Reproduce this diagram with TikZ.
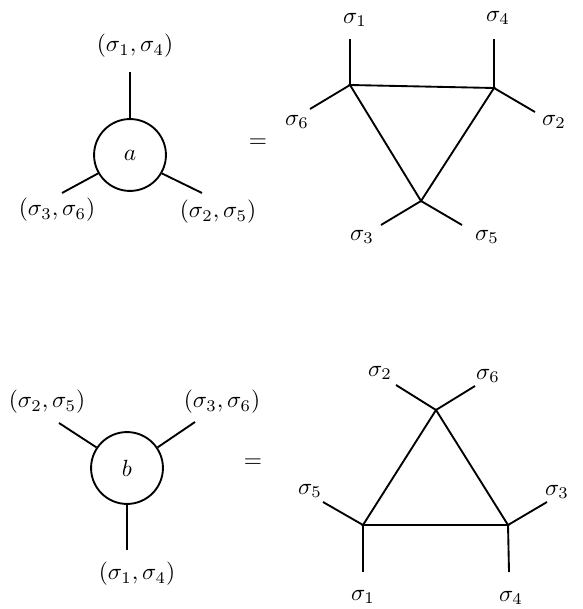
\documentclass[tikz,border=0pt]{standalone}
\begin{document}
\begin{tikzpicture}[x=0.427pt,y=-0.427pt,line width=0.8pt,
  blob/.style={draw,circle,minimum size=30.7pt,inner sep=0pt},
  lbl/.style={inner sep=0pt}]
\useasboundingbox (0,0) rectangle (582,609);
% ---- top left
\node[blob] (a) at (130,155) {$a$};
\coordinate (a1) at (130,72);
\coordinate (a3) at (62,193);
\coordinate (a2) at (202,193);
\draw (a.90) -- (a1);
\draw (a.210) -- (a3);
\draw (a.330) -- (a2);
\node[lbl] (la1) at (135,46) {$(\sigma_1,\sigma_4)$};
\node[lbl] (la3) at (57,210) {$(\sigma_3,\sigma_6)$};
\node[lbl] (la2) at (218,212) {$(\sigma_2,\sigma_5)$};
\node[lbl] (eq1) at (258,143) {$=$};
% ---- top right triangle
\coordinate (t1) at (350,85);
\coordinate (t2) at (494,88);
\coordinate (t3) at (421,201);
\coordinate (e1) at (350,39);
\coordinate (e4) at (494,39);
\coordinate (e6) at (310,109);
\coordinate (e2) at (535,112);
\coordinate (e3) at (381,225);
\coordinate (e5) at (462,225);
\draw (t1) -- (t2) -- (t3) -- cycle;
\draw (t1) -- (e1);
\draw (t1) -- (e6);
\draw (t2) -- (e4);
\draw (t2) -- (e2);
\draw (t3) -- (e3);
\draw (t3) -- (e5);
\node[lbl] (s1) at (355,20) {$\sigma_1$};
\node[lbl] (s4) at (498,18) {$\sigma_4$};
\node[lbl] (s6) at (297,122) {$\sigma_6$};
\node[lbl] (s2) at (554,122) {$\sigma_2$};
\node[lbl] (s3) at (362,237) {$\sigma_3$};
\node[lbl] (s5) at (487,237) {$\sigma_5$};
% ---- bottom left
\node[blob] (b) at (127,468) {$b$};
\coordinate (b2) at (59,423);
\coordinate (b3) at (195,422);
\coordinate (b1) at (127,550);
\draw (b.146) -- (b2);
\draw (b.34) -- (b3);
\draw (b.-90) -- (b1);
\node[lbl] (lb2) at (47,402) {$(\sigma_2,\sigma_5)$};
\node[lbl] (lb3) at (222,402) {$(\sigma_3,\sigma_6)$};
\node[lbl] (lb1) at (137,574) {$(\sigma_1,\sigma_4)$};
\node[lbl] (eq2) at (253,463) {$=$};
% ---- bottom right triangle
\coordinate (u1) at (436,410);
\coordinate (u2) at (363,525);
\coordinate (u3) at (508,525);
\coordinate (f2) at (396,385);
\coordinate (f6) at (475,386);
\coordinate (f5) at (323,502);
\coordinate (f1) at (363,572);
\coordinate (f3) at (547,502);
\coordinate (f4) at (509,572);
\draw (u1) -- (u2) -- (u3) -- cycle;
\draw (u1) -- (f2);
\draw (u1) -- (f6);
\draw (u2) -- (f5);
\draw (u2) -- (f1);
\draw (u3) -- (f3);
\draw (u3) -- (f4);
\node[lbl] (g2) at (380,373) {$\sigma_2$};
\node[lbl] (g6) at (488,376) {$\sigma_6$};
\node[lbl] (g5) at (310,491) {$\sigma_5$};
\node[lbl] (g3) at (557,492) {$\sigma_3$};
\node[lbl] (g1) at (363,597) {$\sigma_1$};
\node[lbl] (g4) at (511,598) {$\sigma_4$};
\end{tikzpicture}
\end{document}
